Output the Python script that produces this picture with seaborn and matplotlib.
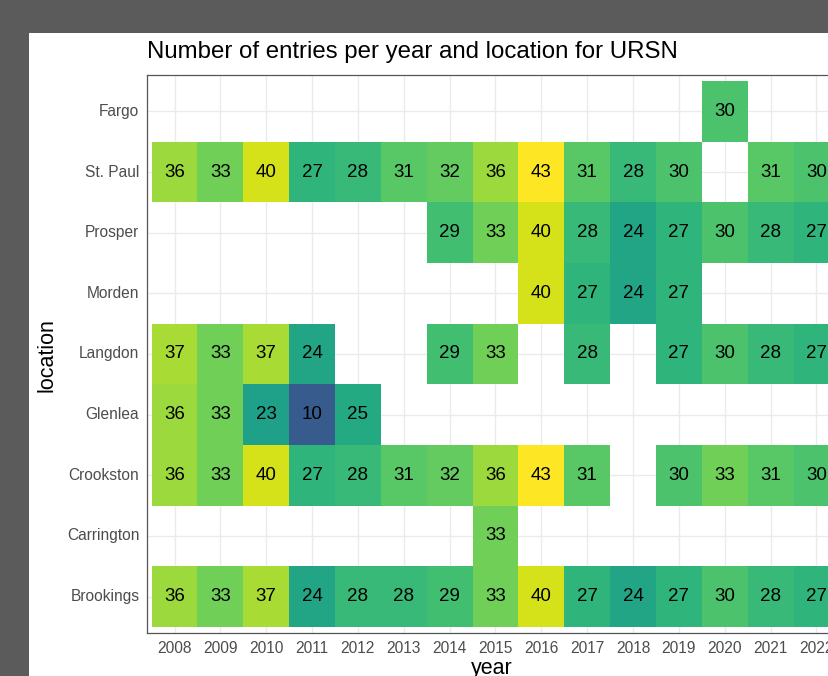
import matplotlib
matplotlib.use('Agg')
import matplotlib.pyplot as plt
from matplotlib.patches import Rectangle
import seaborn as sns
import numpy as np
import pandas as pd

nan = np.nan

years = [2008, 2009, 2010, 2011, 2012, 2013, 2014, 2015, 2016, 2017, 2018, 2019, 2020, 2021, 2022]
locations = ['Fargo', 'St. Paul', 'Prosper', 'Morden', 'Langdon', 'Glenlea',
             'Crookston', 'Carrington', 'Brookings']

fargo      = [nan, nan, nan, nan, nan, nan, nan, nan, nan, nan, nan, nan, 30, nan, nan]
st_paul    = [36, 33, 40, 27, 28, 31, 32, 36, 43, 31, 28, 30, nan, 31, 30]
prosper    = [nan, nan, nan, nan, nan, nan, 29, 33, 40, 28, 24, 27, 30, 28, 27]
morden     = [nan, nan, nan, nan, nan, nan, nan, nan, 40, 27, 24, 27, nan, nan, nan]
langdon    = [37, 33, 37, 24, nan, nan, 29, 33, nan, 28, nan, 27, 30, 28, 27]
glenlea    = [36, 33, 23, 10, 25, nan, nan, nan, nan, nan, nan, nan, nan, nan, nan]
crookston  = [36, 33, 40, 27, 28, 31, 32, 36, 43, 31, nan, 30, 33, 31, 30]
carrington = [nan, nan, nan, nan, nan, nan, nan, 33, nan, nan, nan, nan, nan, nan, nan]
brookings  = [36, 33, 37, 24, 28, 28, 29, 33, 40, 27, 24, 27, 30, 28, 27]

counts = pd.DataFrame([fargo, st_paul, prosper, morden, langdon, glenlea,
                       crookston, carrington, brookings],
                      index=locations, columns=years)

sns.set_style('white')
plt.rcParams['font.family'] = ['Liberation Sans', 'DejaVu Sans']

W, H = 829, 676
fig = plt.figure(figsize=(W / 100, H / 100), dpi=100)
fig.patch.set_facecolor('#5b5b5b')
fig.patches.append(Rectangle((29 / W, 0), 1, (H - 33) / H, transform=fig.transFigure,
                             facecolor='white', edgecolor='none', zorder=-10))

# panel in pixels: left 147, right 844, top 75, bottom 633
ax = fig.add_axes([147 / W, (H - 633) / H, (844 - 147) / W, (633 - 75) / H])
ax.set_zorder(1)
ax.patch.set_alpha(0)

sns.heatmap(counts, ax=ax, cmap='viridis', vmin=-3, vmax=43, cbar=False,
            annot=True, fmt='.0f', linewidths=0,
            annot_kws={'size': 13.5, 'color': 'black'})

ax.set_xlim(-0.1, 15.1)
ax.set_ylim(9.1, -0.1)
ax.set_axisbelow(True)
ax.grid(True, color='#ebebeb', linewidth=1.0)

for s in ax.spines.values():
    s.set_visible(True)
    s.set_color('#555555')
    s.set_linewidth(0.9)

ax.tick_params(axis='both', length=3.5, width=1.0, color='#333333',
               labelcolor='#4d4d4d', labelsize=11.2, pad=2)
ax.set_xticklabels([str(y) for y in years], rotation=0)
ax.set_yticklabels(locations, rotation=0)
ax.set_xlabel('')
ax.set_ylabel('')

fig.text(147 / W, 1 - 52 / H, 'Number of entries per year and location for URSN',
         fontsize=17.3, ha='left', va='center', color='black')
fig.text(47 / W, 1 - 355 / H, 'location', fontsize=15.5, rotation=90,
         ha='center', va='center', color='black')
fig.text(492 / W, (H - 674) / H, 'year', fontsize=15.5, ha='center',
         va='baseline', color='black')

fig.savefig('out.png', dpi=100, facecolor=fig.get_facecolor())
